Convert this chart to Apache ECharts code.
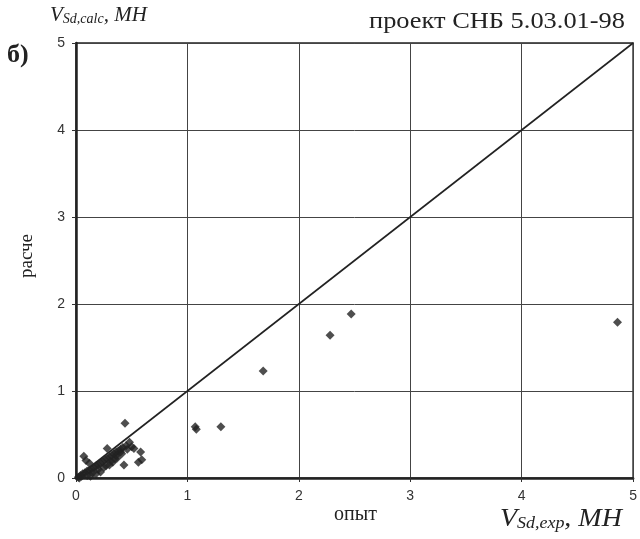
<!DOCTYPE html>
<html><head><meta charset="utf-8">
<script src="https://cdn.jsdelivr.net/npm/echarts@6/dist/echarts.min.js"></script>
<style>html,body{margin:0;padding:0;background:#fff}#c{width:640px;height:539px}</style>
</head><body><div id="c"></div>
<script>
const xTicks = [0, 1, 2, 3, 4, 5];
const yTicks = [0, 1, 2, 3, 4, 5];
const lineX = [0, 5];
const lineY = [0, 5];
const expVals = [2.47, 2.28, 1.68, 1.08, 1.07, 1.30, 4.86,
  0.44, 0.48, 0.58, 0.59, 0.56, 0.52, 0.07, 0.12, 0.28, 0.43, 0.40, 0.37,
  0.02, 0.04, 0.06, 0.08, 0.10, 0.12, 0.14, 0.16, 0.18, 0.20, 0.22, 0.24, 0.26,
  0.28, 0.30, 0.32, 0.34, 0.36, 0.38, 0.40, 0.42, 0.45, 0.33, 0.25, 0.15, 0.20, 0.35, 0.30, 0.10,
  0.09, 0.05, 0.18, 0.22, 0.27, 0.31, 0.36, 0.41, 0.46, 0.50, 0.13, 0.03];
const calcVals = [1.885, 1.64, 1.23, 0.56, 0.59, 0.59, 1.79,
  0.63, 0.41, 0.30, 0.21, 0.18, 0.34, 0.25, 0.17, 0.34, 0.15, 0.30, 0.23,
  0.01, 0.03, 0.05, 0.06, 0.08, 0.09, 0.10, 0.12, 0.14, 0.15, 0.17, 0.19, 0.21,
  0.22, 0.24, 0.26, 0.28, 0.30, 0.31, 0.33, 0.35, 0.37, 0.18, 0.12, 0.06, 0.10, 0.22, 0.15, 0.03,
  0.20, 0.02, 0.05, 0.07, 0.14, 0.19, 0.26, 0.28, 0.33, 0.36, 0.02, 0.00];
const points = expVals.map((v, i) => [v, calcVals[i]]);
const chart = echarts.init(document.getElementById('c'));
const serif = '"Liberation Serif", "DejaVu Serif", serif';
const sans = '"Liberation Sans", Arial, sans-serif';
chart.setOption({
  animation: false,
  backgroundColor: '#fff',
  grid: { left: 76, right: 4, top: 43, bottom: 61, show: true, borderColor: '#222', borderWidth: 1.5 },
  xAxis: {
    type: 'value', min: xTicks[0], max: xTicks[xTicks.length - 1], interval: 1,
    axisLine: { show: true, lineStyle: { color: '#222', width: 2.5 } },
    axisTick: { show: true, length: 4, lineStyle: { color: '#333' } },
    axisLabel: { color: '#333', fontFamily: sans, fontSize: 14, margin: 11 },
    splitLine: { show: true, lineStyle: { color: '#444', width: 1 } }
  },
  yAxis: {
    type: 'value', min: yTicks[0], max: yTicks[yTicks.length - 1], interval: 1,
    axisLine: { show: true, lineStyle: { color: '#222', width: 2.5 } },
    axisTick: { show: true, length: 4, lineStyle: { color: '#333' } },
    axisLabel: { color: '#333', fontFamily: sans, fontSize: 14, margin: 11 },
    splitLine: { show: true, lineStyle: { color: '#444', width: 1 } }
  },
  graphic: [
    { type: 'text', left: 50, top: 5, style: { rich: {
        v: { fontFamily: serif, fontStyle: 'italic', fontSize: 21, fill: '#222' },
        s: { fontFamily: serif, fontStyle: 'italic', fontSize: 14, fill: '#222', padding: [8, 0, 0, 0] } },
      text: '{v|V}{s|Sd,calc}{v|, MH}' } },
    { type: 'text', left: 7, top: 42, style: { text: 'б)', fontFamily: serif, fontWeight: 'bold', fontSize: 26, fill: '#222' } },
    { type: 'text', x: 369, y: 10, scaleX: 1.1, style: { text: 'проект СНБ 5.03.01-98', fontFamily: serif, fontSize: 24, fill: '#222' } },
    { type: 'text', x: 27, y: 256, rotation: Math.PI / 2, style: { text: 'расче', fontFamily: serif, fontSize: 19, fill: '#222', align: 'center', verticalAlign: 'middle' } },
    { type: 'text', left: 334, top: 505, style: { text: 'опыт', fontFamily: serif, fontSize: 20, fill: '#222' } },
    { type: 'text', x: 500, y: 506, scaleX: 1.12, style: { rich: {
        v: { fontFamily: serif, fontStyle: 'italic', fontSize: 25, fill: '#222' },
        s: { fontFamily: serif, fontStyle: 'italic', fontSize: 16, fill: '#222', padding: [10, 0, 0, 0] } },
      text: '{v|V}{s|Sd,exp}{v|, MH}' } }
  ],
  series: [
    { type: 'line', data: lineX.map((v, i) => [v, lineY[i]]), symbol: 'none', lineStyle: { color: '#222', width: 1.6 } },
    { type: 'scatter', data: points, symbol: 'diamond', symbolSize: 9, itemStyle: { color: '#222' } }
  ]
});
</script></body></html>
